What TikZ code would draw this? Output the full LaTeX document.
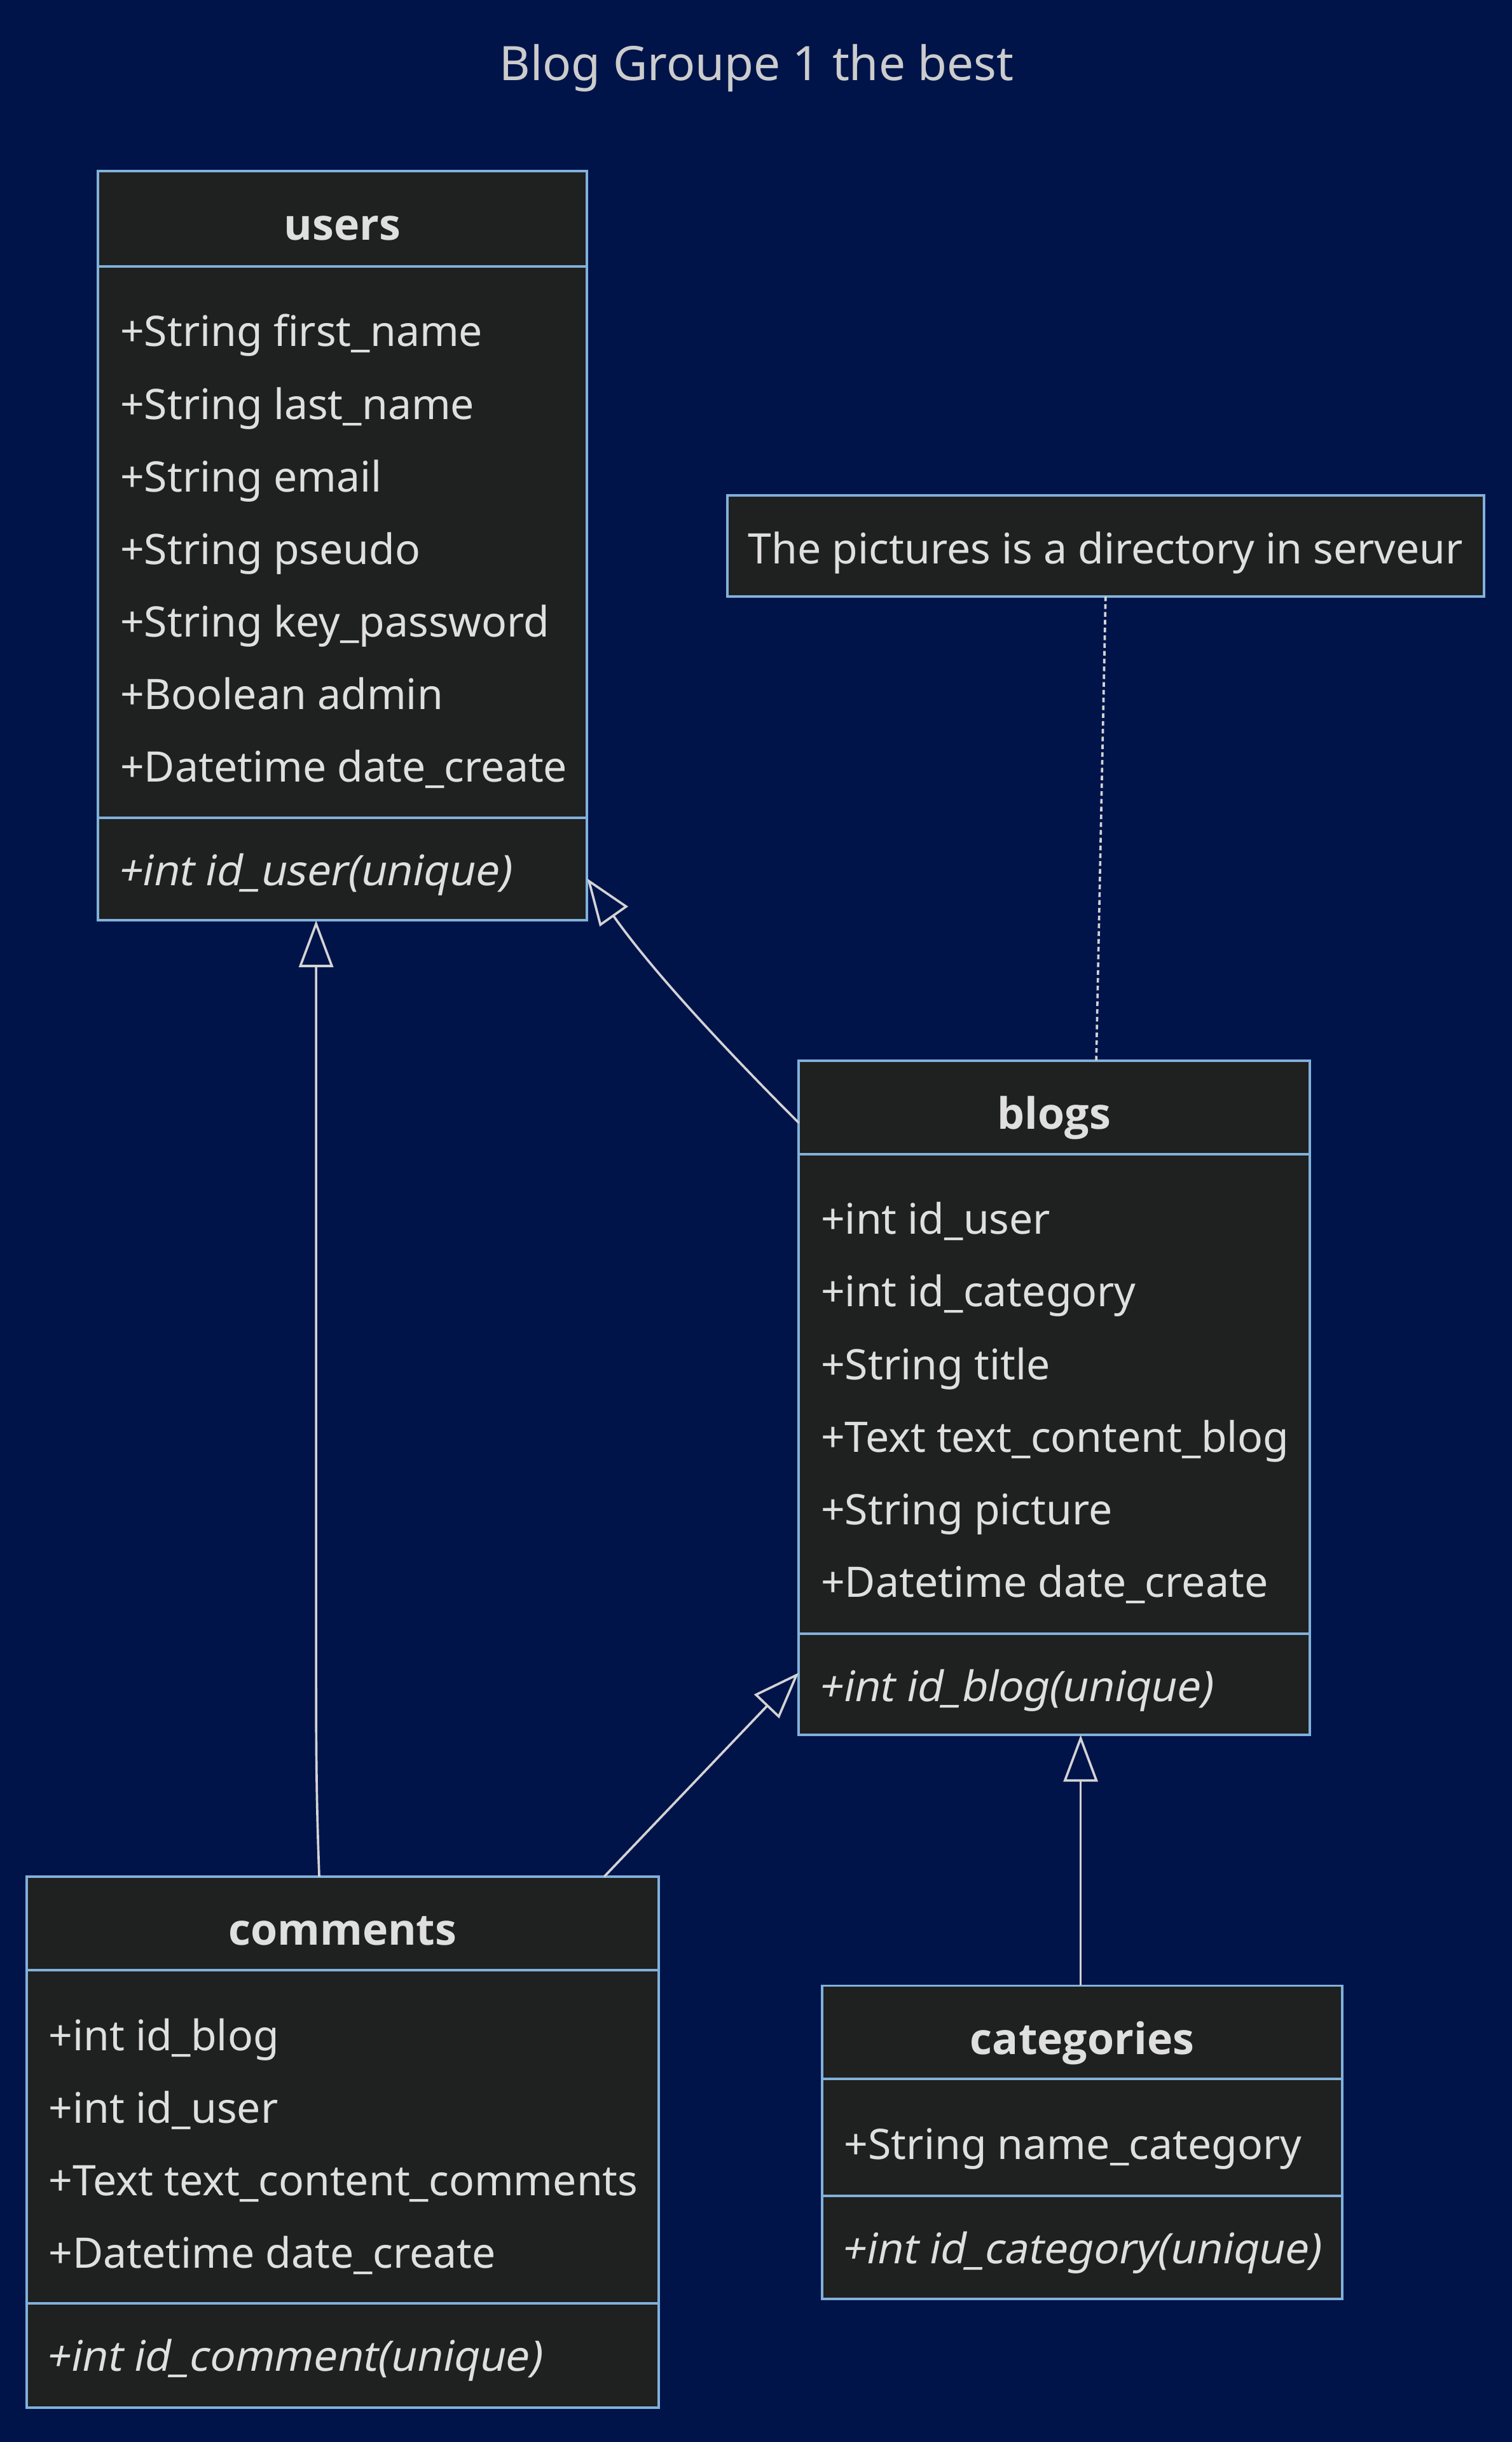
\documentclass[tikz,border=0pt]{standalone}
\usepackage{fontspec}
\setmainfont{Noto Sans}
\newfontfamily\namefont{Open Sans}
\newfontfamily\methfont{Noto Sans}[FakeSlant=0.2]
\usetikzlibrary{arrows.meta,calc}

\definecolor{bgnavy}{HTML}{00144A}
\definecolor{boxfill}{HTML}{1F2020}
\definecolor{boxline}{HTML}{81B1DB}
\definecolor{textcol}{HTML}{E0DFDF}
\definecolor{linecol}{HTML}{D3D3D3}
\definecolor{titlecol}{HTML}{CCCCCC}

\tikzset{
	compart/.style={draw=boxline, fill=boxfill, line width=1.6pt, inner sep=0pt, outer sep=0pt, anchor=north west},
	classname/.style={text=textcol, font=\namefont\bfseries\fontsize{27.8}{32}\selectfont, anchor=base, inner sep=0pt},
	attrtext/.style={text=textcol, font=\fontsize{27}{32}\selectfont, anchor=base west, inner sep=0pt},
	methtext/.style={attrtext, font=\methfont\fontsize{27}{32}\selectfont},
	notetext/.style={text=textcol, font=\fontsize{27}{32}\selectfont, anchor=base, inner sep=0pt},
	titletext/.style={text=titlecol, font=\fontsize{30.5}{36}\selectfont, anchor=base, inner sep=0pt},
	inherit/.style={draw=linecol, line width=1.5pt, -{Triangle[length=30pt, width=22pt, fill=bgnavy]}},
	notelink/.style={draw=linecol, line width=1.5pt, dash pattern=on 3pt off 2pt},
}

\begin{document}
\begin{tikzpicture}[x=1pt, y=-1pt]
	\fill[bgnavy] (0,0) rectangle (971,1568);
	\useasboundingbox (0,0) rectangle (971,1568);
	
	\node[titletext] (title) at (486,51.5) {Blog Groupe 1 the best};
	
	% users
	\node[compart, minimum width=314pt, minimum height=61pt] (users) at (63,110) {};
	\node[compart, minimum width=314pt, minimum height=354pt] (usersattr) at (users.south west) {};
	\node[compart, minimum width=314pt, minimum height=66pt] (usersmeth) at (usersattr.south west) {};
	\node[classname] (usersname) at ($(users.north)+(0,44)$) {users};
	\foreach \a [count=\i from 0] in {+String first\_name, +String last\_name, +String email, +String pseudo, +String key\_password, +Boolean admin, +Datetime date\_create}
		\node[attrtext] at ($(usersattr.north west)+(14,{51.5+46.6*\i})$) {\a};
	\node[methtext] at ($(usersmeth.north west)+(12,43.5)$) {+int id\_user(unique)};
	
	% note
	\node[compart, minimum width=486pt, minimum height=65pt] (note) at (467,318) {};
	\node[notetext] (notelabel) at ($(note.north)+(0,44)$) {The pictures is a directory in serveur};
	
	% blogs
	\node[compart, minimum width=328pt, minimum height=60pt] (blogs) at (513,681) {};
	\node[compart, minimum width=328pt, minimum height=308pt] (blogsattr) at (blogs.south west) {};
	\node[compart, minimum width=328pt, minimum height=65pt] (blogsmeth) at (blogsattr.south west) {};
	\node[classname] (blogsname) at ($(blogs.north)+(0,44)$) {blogs};
	\foreach \a [count=\i from 0] in {+int id\_user, +int id\_category, +String title, +Text text\_content\_blog, +String picture, +Datetime date\_create}
		\node[attrtext] at ($(blogsattr.north west)+(14,{51.5+46.6*\i})$) {\a};
	\node[methtext] at ($(blogsmeth.north west)+(12,43.5)$) {+int id\_blog(unique)};
	
	% comments
	\node[compart, minimum width=406pt, minimum height=60pt] (comments) at (17,1205) {};
	\node[compart, minimum width=406pt, minimum height=214pt] (commentsattr) at (comments.south west) {};
	\node[compart, minimum width=406pt, minimum height=67pt] (commentsmeth) at (commentsattr.south west) {};
	\node[classname] (commentsname) at ($(comments.north)+(0,44)$) {comments};
	\foreach \a [count=\i from 0] in {+int id\_blog, +int id\_user, +Text text\_content\_comments, +Datetime date\_create}
		\node[attrtext] at ($(commentsattr.north west)+(14,{51.5+46.6*\i})$) {\a};
	\node[methtext] at ($(commentsmeth.north west)+(12,43.5)$) {+int id\_comment(unique)};
	
	% categories
	\node[compart, minimum width=334pt, minimum height=60pt] (categories) at (528,1275) {};
	\node[compart, minimum width=334pt, minimum height=75pt] (categoriesattr) at (categories.south west) {};
	\node[compart, minimum width=334pt, minimum height=66pt] (categoriesmeth) at (categoriesattr.south west) {};
	\node[classname] (categoriesname) at ($(categories.north)+(0,44)$) {categories};
	\node[attrtext] at ($(categoriesattr.north west)+(14,51.5)$) {+String name\_category};
	\node[methtext] at ($(categoriesmeth.north west)+(12,43.5)$) {+int id\_category(unique)};
	
	% links
	\draw[inherit] ([yshift=-10pt]blogs.west) .. controls (470,678) and (420,625) .. ([yshift=-6pt]usersmeth.east);
	\draw[inherit] ([xshift=-15pt]comments.north) .. controls (203,1150) and (203,1120) .. (203,1060) -- ([xshift=-17pt]usersmeth.south);
	\draw[inherit] ([xshift=168pt]comments.north) -- ([yshift=7.5pt]blogsmeth.west);
	\draw[inherit] ([xshift=-1pt]categories.north) -- ([xshift=17pt]blogsmeth.south);
	\draw[notelink] (note.south) -- ([xshift=27pt]blogs.north);
\end{tikzpicture}
\end{document}
